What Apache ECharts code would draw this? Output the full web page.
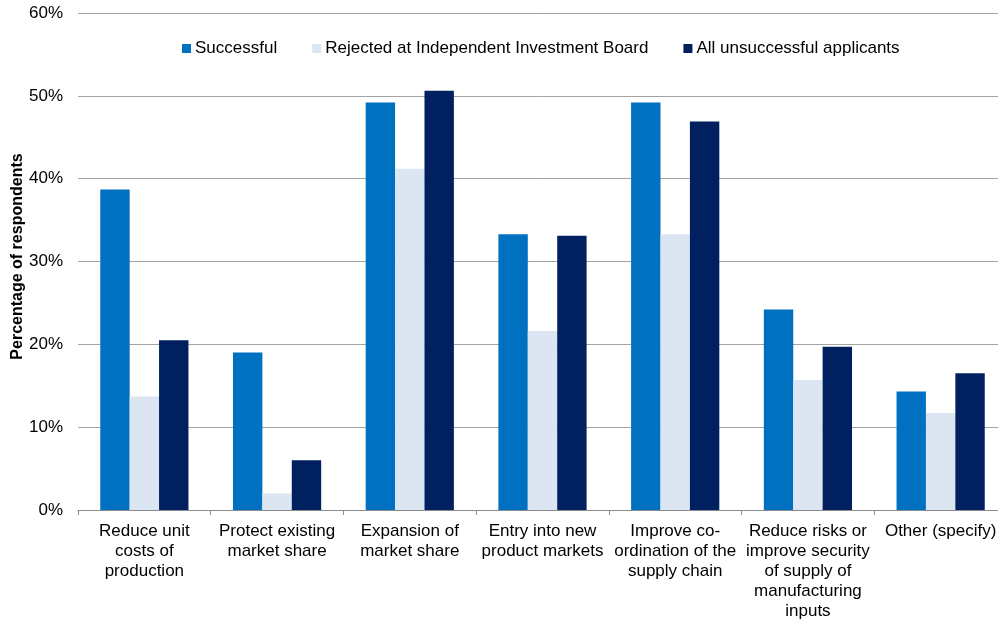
<!DOCTYPE html>
<html>
<head>
<meta charset="utf-8">
<title>Objectives of applicants</title>
<script src="https://cdn.jsdelivr.net/npm/echarts@6/dist/echarts.min.js"></script>
<style>
  html, body { margin: 0; padding: 0; background: #ffffff; }
  #chart { width: 998px; height: 619px; }
</style>
</head>
<body>
<div id="chart"></div>
<script>
// Categories (objectives) and share of respondents per group, in percent
const categories = [
  'Reduce unit\ncosts of\nproduction',
  'Protect existing\nmarket share',
  'Expansion of\nmarket share',
  'Entry into new\nproduct markets',
  'Improve co-\nordination of the\nsupply chain',
  'Reduce risks or\nimprove security\nof supply of\nmanufacturing\ninputs',
  'Other (specify)'
];
const seriesNames = [
  'Successful',
  'Rejected at Independent Investment Board',
  'All unsuccessful applicants'
];
const successful = [38.7, 19.0, 49.2, 33.3, 49.2, 24.2, 14.3];
const rejectedIIB = [13.7, 2.0, 41.2, 21.6, 33.3, 15.7, 11.7];
const allUnsuccessful = [20.5, 6.0, 50.6, 33.1, 46.9, 19.7, 16.5];
const yTicks = [0, 10, 20, 30, 40, 50, 60];

const colors = ['#0070C0', '#DCE6F2', '#002060'];
const fontFamily = '"Liberation Sans", Arial, sans-serif';

const chart = echarts.init(document.getElementById('chart'), null, { renderer: 'canvas' });

const makeSeries = (name, data, color) => ({
  name: name,
  type: 'bar',
  data: data,
  barWidth: 29.4,
  barGap: '0%',
  itemStyle: { color: color },
  emphasis: { disabled: true }
});

chart.setOption({
  animation: false,
  textStyle: { fontFamily: fontFamily },
  legend: {
    top: 35,
    left: 177,
    itemWidth: 9,
    itemHeight: 9,
    itemGap: 35,
    icon: 'rect',
    data: seriesNames,
    textStyle: { fontSize: 17, color: '#000', fontFamily: fontFamily, padding: [0, 0, 0, -1] }
  },
  grid: {
    left: 78,
    right: -9,
    top: 13,
    bottom: 109,
    containLabel: false,
    outerBoundsMode: 'none'
  },
  xAxis: {
    type: 'category',
    data: categories,
    boundaryGap: true,
    axisLine: { show: true, lineStyle: { color: '#8c8c8c', width: 1 } },
    axisTick: { show: true, length: 5, lineStyle: { color: '#8c8c8c' } },
    axisLabel: {
      interval: 0,
      margin: 11,
      fontSize: 17,
      lineHeight: 20,
      color: '#000',
      fontFamily: fontFamily,
      align: 'center'
    },
    splitLine: { show: false }
  },
  yAxis: {
    type: 'value',
    min: yTicks[0],
    max: yTicks[yTicks.length - 1],
    interval: 10,
    name: 'Percentage of respondents',
    nameLocation: 'middle',
    nameGap: 52,
    nameRotate: 90,
    nameMoveOverlap: false,
    nameTextStyle: { fontSize: 16, fontWeight: 'bold', color: '#000', fontFamily: fontFamily, padding: [0, 0, 0, 10] },
    axisLine: { show: false },
    axisTick: { show: false },
    axisLabel: {
      margin: 15,
      fontSize: 17,
      color: '#000',
      fontFamily: fontFamily,
      formatter: v => v + '%'
    },
    splitLine: { show: true, lineStyle: { color: '#a3a3a3', width: 1 } }
  },
  series: [
    makeSeries(seriesNames[0], successful, colors[0]),
    makeSeries(seriesNames[1], rejectedIIB, colors[1]),
    makeSeries(seriesNames[2], allUnsuccessful, colors[2])
  ]
});
</script>
</body>
</html>
